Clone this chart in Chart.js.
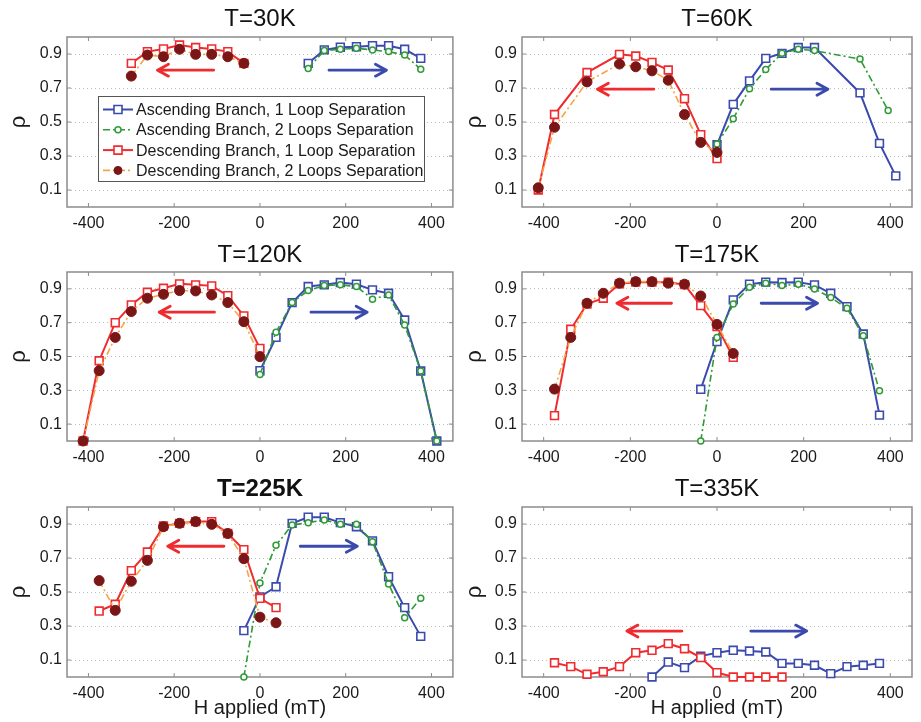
<!DOCTYPE html>
<html>
<head>
<meta charset="utf-8">
<title>Loop separation</title>
<script src="https://cdn.jsdelivr.net/npm/chart.js@4.4.0/dist/chart.umd.min.js"></script>
<style>
  body { margin: 0; background: #fff; }
  .panel { position: absolute; }
</style>
</head>
<body>
<script>
// axis ticks
const fieldTicks = [-400, -200, 0, 200, 400]
const rhoTicks = [0.1, 0.3, 0.5, 0.7, 0.9]

const seriesNames = [
    'Ascending Branch, 1 Loop Separation',
    'Ascending Branch, 2 Loops Separation',
    'Descending Branch, 1 Loop Separation',
    'Descending Branch, 2 Loops Separation'
]

// T = 30K
const h30Asc = [112.5, 150, 187.5, 225, 262.5, 300, 337.5, 375]
const r30Asc1 = [0.845, 0.924, 0.94, 0.943, 0.949, 0.949, 0.928, 0.874]
const r30Asc2 = [0.815, 0.92, 0.928, 0.934, 0.924, 0.914, 0.894, 0.81]
const h30Desc = [-300, -262.5, -225, -187.5, -150, -112.5, -75, -37.5]
const r30Desc1 = [0.845, 0.914, 0.93, 0.953, 0.938, 0.93, 0.914, 0.845]
const r30Desc2 = [0.77, 0.894, 0.884, 0.928, 0.898, 0.898, 0.884, 0.845]

// T = 60K
const h60Asc1 = [0, 37.5, 75, 112.5, 150, 187.5, 225, 330, 375, 412.5]
const r60Asc1 = [0.366, 0.604, 0.742, 0.874, 0.904, 0.938, 0.938, 0.671, 0.374, 0.183]
const h60Asc2 = [0, 37.5, 75, 112.5, 150, 187.5, 225, 330, 395]
const r60Asc2 = [0.37, 0.519, 0.696, 0.809, 0.904, 0.928, 0.92, 0.87, 0.568]
const h60Desc = [-412.5, -375, -300, -225, -187.5, -150, -112.5, -75, -37.5, 0]
const r60Desc1 = [0.1, 0.544, 0.791, 0.898, 0.888, 0.851, 0.806, 0.637, 0.426, 0.285]
const r60Desc2 = [0.113, 0.469, 0.736, 0.841, 0.825, 0.801, 0.746, 0.544, 0.38, 0.321]

// T = 120K
const h120Asc = [0, 37.5, 75, 112.5, 150, 187.5, 225, 262.5, 300, 337.5, 375, 412.5]
const r120Asc1 = [0.416, 0.613, 0.819, 0.914, 0.924, 0.938, 0.928, 0.894, 0.874, 0.716, 0.414, 0]
const r120Asc2 = [0.394, 0.643, 0.819, 0.89, 0.92, 0.924, 0.914, 0.839, 0.864, 0.686, 0.414, 0]
const h120Desc = [-412.5, -375, -337.5, -300, -262.5, -225, -187.5, -150, -112.5, -75, -37.5, 0]
const r120Desc1 = [0, 0.475, 0.7, 0.805, 0.88, 0.904, 0.93, 0.924, 0.918, 0.86, 0.74, 0.548]
const r120Desc2 = [0, 0.416, 0.613, 0.766, 0.845, 0.868, 0.89, 0.888, 0.864, 0.819, 0.706, 0.499]

// T = 175K
const h175Asc = [-37.5, 0, 37.5, 75, 112.5, 150, 187.5, 225, 262.5, 300, 337.5, 375]
const r175Asc1 = [0.306, 0.588, 0.835, 0.928, 0.94, 0.938, 0.94, 0.924, 0.874, 0.795, 0.633, 0.153]
const r175Asc2 = [0, 0.613, 0.811, 0.91, 0.934, 0.92, 0.928, 0.9, 0.849, 0.785, 0.623, 0.297]
const h175Desc = [-375, -337.5, -300, -262.5, -225, -187.5, -150, -112.5, -75, -37.5, 0, 37.5]
const r175Desc1 = [0.15, 0.661, 0.81, 0.845, 0.93, 0.94, 0.94, 0.94, 0.925, 0.801, 0.677, 0.495]
const r175Desc2 = [0.307, 0.613, 0.815, 0.874, 0.934, 0.943, 0.943, 0.934, 0.928, 0.858, 0.69, 0.518]

// T = 225K
const h225Asc = [-37.5, 0, 37.5, 75, 112.5, 150, 187.5, 225, 262.5, 300, 337.5, 375]
const r225Asc1 = [0.273, 0.471, 0.531, 0.904, 0.94, 0.94, 0.908, 0.884, 0.801, 0.59, 0.408, 0.239]
const r225Asc2 = [0, 0.553, 0.775, 0.894, 0.908, 0.924, 0.898, 0.898, 0.795, 0.547, 0.348, 0.463]
const h225Desc = [-375, -337.5, -300, -262.5, -225, -187.5, -150, -112.5, -75, -37.5, 0, 37.5]
const r225Desc1 = [0.388, 0.428, 0.626, 0.735, 0.888, 0.904, 0.914, 0.914, 0.844, 0.749, 0.463, 0.408]
const r225Desc2 = [0.567, 0.392, 0.563, 0.686, 0.884, 0.904, 0.914, 0.898, 0.844, 0.696, 0.352, 0.319]

// T = 335K (single loop only)
const h335Asc = [-150, -112.5, -75, -37.5, 0, 37.5, 75, 112.5, 150, 187.5, 225, 262.5, 300, 337.5, 375]
const r335Asc1 = [0, 0.088, 0.055, 0.123, 0.143, 0.157, 0.153, 0.147, 0.08, 0.08, 0.069, 0.02, 0.061, 0.069, 0.08]
const h335Desc = [-375, -337.5, -300, -262.5, -225, -187.5, -150, -112.5, -75, -37.5, 0, 37.5, 75, 112.5, 150]
const r335Desc1 = [0.084, 0.061, 0.016, 0.031, 0.061, 0.143, 0.157, 0.196, 0.166, 0.114, 0.026, 0, 0, 0, 0]

// sweep direction arrows: [from H, to H, rho]
const descArrows = [[-108, -239, 0.805], [-146, -276, 0.693], [-106, -235, 0.762], [-105, -231, 0.815], [-84, -215, 0.769], [-81, -208, 0.27]]
const ascArrows = [[161, 295, 0.805], [125, 256, 0.693], [119, 250, 0.762], [102, 232, 0.815], [94, 227, 0.769], [78, 207, 0.27]]

const BLUE = '#3a4aad'
const GREEN = '#2f9b36'
const RED = '#ef2b2f'
const ORANGE = '#f6a444'
const DARK = '#7a1616'
const FRAME = '#8c8c8c'
const FONT = "'Liberation Sans', Arial, sans-serif"

Chart.defaults.font.family = FONT
Chart.defaults.color = '#1a1a1a'

const styles = [
    { borderColor: BLUE, borderWidth: 2, pointStyle: 'rect', pointRadius: 5.5, pointBackgroundColor: '#fff', pointBorderColor: BLUE, pointBorderWidth: 1.6, order: 4 },
    { borderColor: GREEN, borderWidth: 1.6, borderDash: [7, 3, 2, 3], pointStyle: 'circle', pointRadius: 3, pointBackgroundColor: '#fff', pointBorderColor: GREEN, pointBorderWidth: 1.5, order: 3 },
    { borderColor: RED, borderWidth: 2, pointStyle: 'rect', pointRadius: 5.5, pointBackgroundColor: '#fff', pointBorderColor: RED, pointBorderWidth: 1.6, order: 2 },
    { borderColor: ORANGE, borderWidth: 1.6, borderDash: [7, 3, 2, 3], pointStyle: 'circle', pointRadius: 5, pointBackgroundColor: DARK, pointBorderColor: DARK, pointBorderWidth: 1, order: 1 }
]

// [style index, H values, rho values]
const panels = [
    { title: 'T=30K', col: 0, row: 0, legend: true, sets: [[0, h30Asc, r30Asc1], [1, h30Asc, r30Asc2], [2, h30Desc, r30Desc1], [3, h30Desc, r30Desc2]] },
    { title: 'T=60K', col: 1, row: 0, sets: [[0, h60Asc1, r60Asc1], [1, h60Asc2, r60Asc2], [2, h60Desc, r60Desc1], [3, h60Desc, r60Desc2]] },
    { title: 'T=120K', col: 0, row: 1, sets: [[0, h120Asc, r120Asc1], [1, h120Asc, r120Asc2], [2, h120Desc, r120Desc1], [3, h120Desc, r120Desc2]] },
    { title: 'T=175K', col: 1, row: 1, sets: [[0, h175Asc, r175Asc1], [1, h175Asc, r175Asc2], [2, h175Desc, r175Desc1], [3, h175Desc, r175Desc2]] },
    { title: 'T=225K', col: 0, row: 2, bold: true, sets: [[0, h225Asc, r225Asc1], [1, h225Asc, r225Asc2], [2, h225Desc, r225Desc1], [3, h225Desc, r225Desc2]] },
    { title: 'T=335K', col: 1, row: 2, sets: [[0, h335Asc, r335Asc1], [2, h335Desc, r335Desc1]] }
]

// column: left, width, y-axis width, right padding, rho title offset
const cols = [
    { left: 0, w: 460, yw: 67, pr: 3, rhoPad: 6 },
    { left: 460, w: 461, yw: 62, pr: 9, rhoPad: 2 }
]
// row: top, height, title block, x-axis block
const rows = [
    { top: 0, h: 236, th: 37, xh: 29 },
    { top: 236, h: 234, th: 36, xh: 29 },
    { top: 470, h: 252, th: 37, xh: 45 }
]

// grey box with inward tick marks
const framePlugin = {
    id: 'frame',
    beforeDatasetsDraw(chart) {
        const { ctx, chartArea: a, scales: { x, y } } = chart
        ctx.save()
        ctx.strokeStyle = FRAME
        ctx.lineWidth = 1.5
        ctx.strokeRect(a.left, a.top, a.width, a.height)
        ctx.lineWidth = 1
        ctx.beginPath()
        x.ticks.forEach(t => {
            const px = x.getPixelForValue(t.value)
            ctx.moveTo(px, a.bottom); ctx.lineTo(px, a.bottom - 4)
            ctx.moveTo(px, a.top); ctx.lineTo(px, a.top + 4)
        })
        y.ticks.forEach(t => {
            const py = y.getPixelForValue(t.value)
            ctx.moveTo(a.left, py); ctx.lineTo(a.left + 4, py)
            ctx.moveTo(a.right, py); ctx.lineTo(a.right - 4, py)
        })
        ctx.stroke()
        ctx.restore()
    }
}

function drawArrow(ctx, x0, x1, py, color) {
    const dir = Math.sign(x1 - x0)
    ctx.strokeStyle = color
    ctx.lineWidth = 2.8
    ctx.lineCap = 'round'
    ctx.lineJoin = 'round'
    ctx.beginPath()
    ctx.moveTo(x0, py); ctx.lineTo(x1, py)
    ctx.moveTo(x1 - dir * 11, py - 6); ctx.lineTo(x1, py); ctx.lineTo(x1 - dir * 11, py + 6)
    ctx.stroke()
}

const arrowPlugin = {
    id: 'sweepArrows',
    afterDatasetsDraw(chart, args, opts) {
        const { ctx, scales: { x, y } } = chart
        const d = opts.desc, u = opts.asc
        ctx.save()
        drawArrow(ctx, x.getPixelForValue(d[0]), x.getPixelForValue(d[1]), y.getPixelForValue(d[2]), RED)
        drawArrow(ctx, x.getPixelForValue(u[0]), x.getPixelForValue(u[1]), y.getPixelForValue(u[2]), BLUE)
        ctx.restore()
    }
}

// boxed legend sitting inside the first panel
const boxLegend = {
    id: 'boxLegend',
    afterDraw(chart, args, opts) {
        if (!opts.show) return
        const { ctx, chartArea: a } = chart
        const bx = a.left + 31, by = a.top + 59, bw = 326, bh = 85
        ctx.save()
        ctx.fillStyle = '#fff'
        ctx.fillRect(bx, by, bw, bh)
        ctx.strokeStyle = '#555'
        ctx.lineWidth = 1
        ctx.strokeRect(bx + 0.5, by + 0.5, bw, bh)
        ctx.font = '16px ' + FONT
        ctx.textBaseline = 'middle'
        chart.data.datasets.forEach((ds, i) => {
            const cy = by + 13.5 + i * 20.3
            ctx.strokeStyle = ds.borderColor
            ctx.lineWidth = ds.borderWidth
            ctx.setLineDash(ds.borderDash || [])
            ctx.beginPath()
            ctx.moveTo(bx + 5, cy); ctx.lineTo(bx + 35, cy)
            ctx.stroke()
            ctx.setLineDash([])
            ctx.fillStyle = ds.pointBackgroundColor
            ctx.strokeStyle = ds.pointBorderColor
            ctx.lineWidth = ds.pointBorderWidth
            ctx.beginPath()
            if (ds.pointStyle === 'rect') {
                const s = 4
                ctx.rect(bx + 20 - s, cy - s, 2 * s, 2 * s)
            } else {
                ctx.arc(bx + 20, cy, Math.min(ds.pointRadius, 4), 0, Math.PI * 2)
            }
            ctx.fill()
            ctx.stroke()
            ctx.fillStyle = '#1a1a1a'
            ctx.fillText(ds.label, bx + 38, cy + 1)
        })
        ctx.restore()
    }
}

panels.forEach((p, k) => {
    const c = cols[p.col], r = rows[p.row]
    const box = document.createElement('div')
    box.className = 'panel'
    box.style.left = c.left + 'px'
    box.style.top = r.top + 'px'
    const canvas = document.createElement('canvas')
    canvas.width = c.w
    canvas.height = r.h
    box.appendChild(canvas)
    document.body.appendChild(box)

    const datasets = p.sets.map(([s, hs, rs]) => ({
        label: seriesNames[s],
        data: hs.map((h, i) => ({ x: h, y: rs[i] })),
        tension: 0,
        clip: false,
        ...styles[s]
    }))

    new Chart(canvas, {
        type: 'line',
        data: { datasets },
        plugins: [framePlugin, arrowPlugin, boxLegend],
        options: {
            responsive: false,
            animation: false,
            events: [],
            layout: { padding: { left: 0, right: c.pr, top: 0, bottom: 0 } },
            plugins: {
                legend: { display: false },
                tooltip: { enabled: false },
                title: {
                    display: true,
                    text: p.title,
                    fullSize: false,
                    color: '#111',
                    font: { size: 24, weight: p.bold ? 'bold' : 'normal' },
                    padding: { top: 5, bottom: r.th - 5 - 28.8 }
                },
                sweepArrows: { desc: descArrows[k], asc: ascArrows[k] },
                boxLegend: { show: !!p.legend }
            },
            scales: {
                x: {
                    type: 'linear',
                    min: -450,
                    max: 450,
                    afterBuildTicks: s => { s.ticks = fieldTicks.map(v => ({ value: v })) },
                    afterFit: s => { s.height = r.xh },
                    grid: { display: false, drawTicks: false },
                    border: { display: false },
                    ticks: { padding: 7, color: '#1a1a1a', font: { size: 16 }, callback: v => String(v) },
                    title: {
                        display: p.row === 2,
                        text: 'H applied (mT)',
                        color: '#1a1a1a',
                        font: { size: 20 },
                        padding: { top: 0, bottom: 2 }
                    }
                },
                y: {
                    min: 0,
                    max: 1,
                    afterBuildTicks: s => { s.ticks = rhoTicks.map(v => ({ value: v })) },
                    afterFit: s => { s.width = c.yw },
                    grid: { color: '#bdbdbd', lineWidth: 1, drawTicks: false },
                    border: { display: false, dash: [1, 3] },
                    ticks: { padding: 5, color: '#1a1a1a', font: { size: 16 }, callback: v => v.toFixed(1) },
                    title: {
                        display: true,
                        text: 'ρ',
                        color: '#1a1a1a',
                        font: { size: 22 },
                        padding: { top: c.rhoPad, bottom: 0 }
                    }
                }
            }
        }
    })
})
</script>
</body>
</html>
